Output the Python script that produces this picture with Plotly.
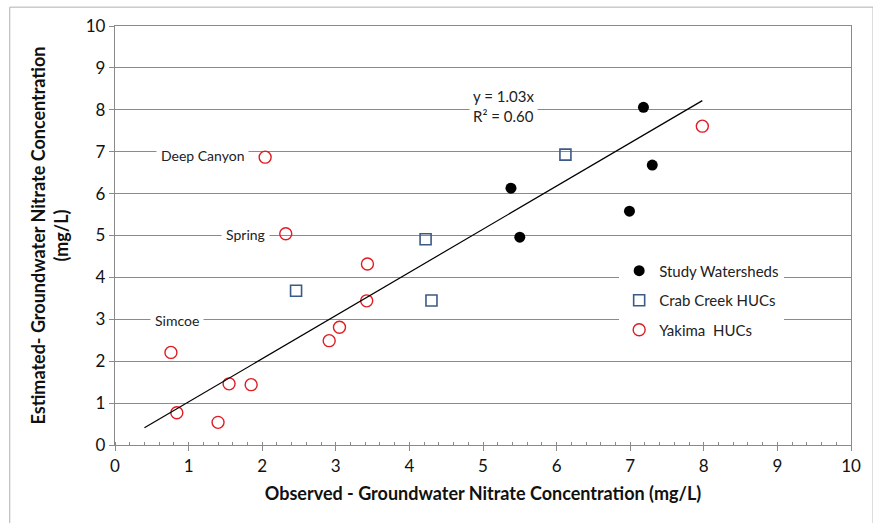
import plotly.graph_objects as go

# Observed vs estimated groundwater nitrate (mg/L)
study_obs = [7.18, 7.30, 5.38, 5.50, 6.99]
study_est = [8.06, 6.68, 6.13, 4.96, 5.58]

crab_obs = [2.46, 4.22, 6.12, 4.30]
crab_est = [3.68, 4.91, 6.93, 3.45]

yakima_obs = [2.04, 2.32, 3.43, 0.76, 0.84, 1.40, 1.55, 1.85, 2.91, 3.05, 3.42, 7.98]
yakima_est = [6.87, 5.04, 4.32, 2.21, 0.77, 0.54, 1.46, 1.44, 2.49, 2.81, 3.44, 7.61]

# Named Yakima site labels: (label, label x, label y)
site_labels = [("Deep Canyon", 1.19, 6.90), ("Spring", 1.77, 5.03), ("Simcoe", 0.84, 2.96)]

slope = 1.03
r_squared = 0.60
trend_x = [0.40, 7.98]

FONT = "Lato, Carlito, Calibri, sans-serif"
GRID = "#8a8a8a"

fig = go.Figure()

fig.add_trace(go.Scatter(
    x=study_obs, y=study_est, mode="markers", name="Study Watersheds",
    marker=dict(symbol="circle", size=11, color="black", line=dict(width=0)),
    legendgroup="a"))
fig.add_trace(go.Scatter(
    x=crab_obs, y=crab_est, mode="markers", name="Crab Creek HUCs",
    marker=dict(symbol="square-open", size=11, color="#3b5a88", line=dict(width=1.6)),
    legendgroup="b"))
fig.add_trace(go.Scatter(
    x=yakima_obs, y=yakima_est, mode="markers", name="Yakima  HUCs",
    marker=dict(symbol="circle-open", size=12, color="#e01b22", line=dict(width=1.4)),
    legendgroup="c"))

# Zero-intercept linear trend line
fig.add_trace(go.Scatter(
    x=trend_x, y=[slope * v for v in trend_x], mode="lines",
    line=dict(color="black", width=1.2), showlegend=False, hoverinfo="skip"))

# Site name labels
for name, lx, ly in site_labels:
    fig.add_annotation(x=lx, y=ly, text=name, showarrow=False,
                       font=dict(family=FONT, size=14, color="#222222"),
                       bgcolor="white", borderpad=4, xanchor="center", yanchor="middle")

# Trend equation
fig.add_annotation(x=5.28, y=8.1,
                   text=f"y = {slope:.2f}x<br>R² = {r_squared:.2f}",
                   showarrow=False, align="left",
                   font=dict(family=FONT, size=15, color="#222222"),
                   bgcolor="white", borderpad=3, xanchor="center", yanchor="middle")

# Outer chart frame
fig.add_shape(type="rect", xref="paper", yref="paper",
              x0=-0.143, x1=1.03, y0=-0.3, y1=1.045,
              line=dict(color="#b0b0b0", width=1), layer="below")

fig.update_layout(
    width=873, height=523, autosize=False,
    margin=dict(l=115, r=16, t=26, b=78),
    paper_bgcolor="white", plot_bgcolor="white",
    font=dict(family=FONT, size=17, color="#111111"),
    showlegend=True,
    legend=dict(x=0.685, y=0.345, xanchor="left", yanchor="middle",
                bgcolor="white", borderwidth=0, tracegroupgap=7,
                itemwidth=30, font=dict(family=FONT, size=15, color="#222222")),
    xaxis=dict(range=[0, 10], dtick=1, tick0=0, showgrid=False, zeroline=False,
               showline=True, linecolor=GRID, linewidth=1.3, mirror=True,
               ticks="outside", ticklen=5, tickcolor=GRID, tickwidth=1.3,
               tickfont=dict(family=FONT, size=17, color="#111111"),
               minor=dict(dtick=0.2, ticks="inside", ticklen=3, tickcolor=GRID, showgrid=False),
               title=dict(text="<b>Observed - Groundwater Nitrate Concentration (mg/L)</b>",
                          font=dict(family=FONT, size=18, color="#111111"), standoff=12)),
    yaxis=dict(range=[0, 10], dtick=1, tick0=0, showgrid=True, gridcolor=GRID, gridwidth=1,
               zeroline=False, showline=True, linecolor=GRID, linewidth=1.3, mirror=True,
               ticks="outside", ticklen=5, tickcolor=GRID, tickwidth=1.3,
               tickfont=dict(family=FONT, size=17, color="#111111"),
               title=dict(text="<b>Estimated- Groundwater Nitrate Concentration<br>(mg/L)</b>",
                          font=dict(family=FONT, size=18, color="#111111"), standoff=12)),
)

fig.write_html("out.html")
